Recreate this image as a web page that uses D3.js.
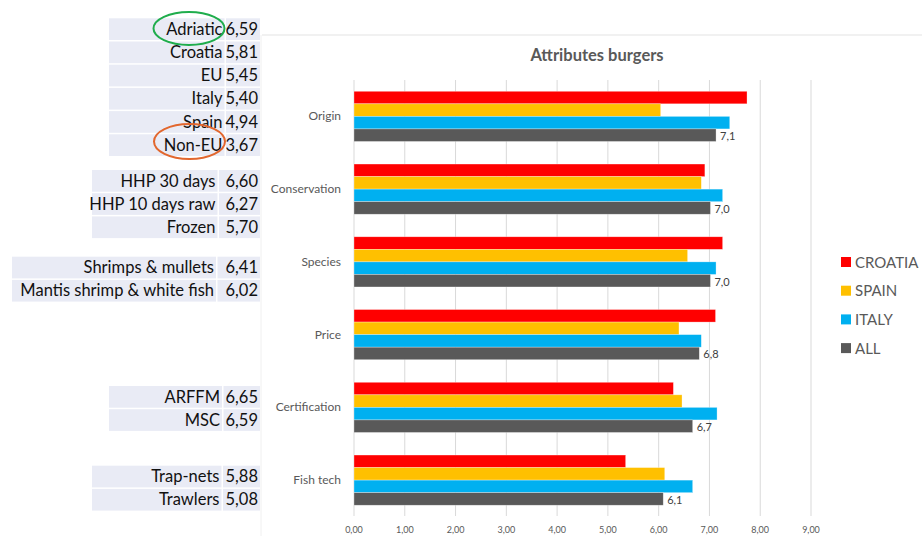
<!DOCTYPE html>
<html>
<head>
<meta charset="utf-8">
<script src="https://cdn.jsdelivr.net/npm/d3@7"></script>
<style>
  body { margin: 0; background: #fff; }
  svg { display: block; font-family: Lato, "Open Sans", sans-serif; }
</style>
</head>
<body>
<svg width="922" height="536"></svg>
<script>
// chart data
let categories = ["Origin", "Conservation", "Species", "Price", "Certification", "Fish tech"];
let seriesNames = ["CROATIA", "SPAIN", "ITALY", "ALL"];
let croatia = [7.74, 6.91, 7.26, 7.12, 6.29, 5.35];
let spain = [6.04, 6.84, 6.57, 6.40, 6.46, 6.12];
let italy = [7.40, 7.26, 7.13, 6.84, 7.15, 6.67];
let all = [7.13, 7.02, 7.02, 6.80, 6.67, 6.09];
let xTicks = [0, 1, 2, 3, 4, 5, 6, 7, 8, 9];
let colors = ["#ff0000", "#ffc000", "#00b0f0", "#595959"];

// side tables
let originLabels = ["Adriatic", "Croatia", "EU", "Italy", "Spain", "Non-EU"];
let originValues = ["6,59", "5,81", "5,45", "5,40", "4,94", "3,67"];
let conservationLabels = ["HHP 30 days", "HHP 10 days raw", "Frozen"];
let conservationValues = ["6,60", "6,27", "5,70"];
let speciesLabels = ["Shrimps & mullets", "Mantis shrimp & white fish"];
let speciesValues = ["6,41", "6,02"];
let certLabels = ["ARFFM", "MSC"];
let certValues = ["6,65", "6,59"];
let techLabels = ["Trap-nets", "Trawlers"];
let techValues = ["5,88", "5,08"];

let svg = d3.select("svg");
let series = [croatia, spain, italy, all];

// frame lines
svg.append("line").attr("x1", 262).attr("x2", 922).attr("y1", 35).attr("y2", 35)
  .attr("stroke", "#e3e3e3");
svg.append("line").attr("x1", 261).attr("x2", 261).attr("y1", 35).attr("y2", 536)
  .attr("stroke", "#f0f0f0");

// scales
let x = d3.scaleLinear().domain([0, 9]).range([354, 811]);
let y = d3.scaleBand().domain(categories).range([80, 516.5])
  .paddingInner(0.31).paddingOuter(0.155);
let ySub = d3.scaleBand().domain(seriesNames).range([0, y.bandwidth()]);

// gridlines
svg.append("g")
  .selectAll("line")
  .data(xTicks)
  .enter()
  .append("line")
  .attr("x1", (d) => x(d))
  .attr("x2", (d) => x(d))
  .attr("y1", 80)
  .attr("y2", 516)
  .attr("stroke", "#d9d9d9");

// bars
let groups = svg.append("g")
  .selectAll("g")
  .data(categories)
  .enter()
  .append("g")
  .attr("transform", (d) => "translate(0," + y(d) + ")");

groups.selectAll("rect")
  .data((d, i) => seriesNames.map((s, j) => ({ s: s, v: series[j][i], c: colors[j] })))
  .enter()
  .append("rect")
  .attr("x", x(0))
  .attr("y", (d) => ySub(d.s))
  .attr("width", (d) => x(d.v) - x(0))
  .attr("height", ySub.bandwidth())
  .attr("fill", (d) => d.c)
  .attr("stroke", "#fff")
  .attr("stroke-opacity", 0.5)
  .attr("stroke-width", 0.6);

// data labels on ALL
svg.append("g")
  .selectAll("text")
  .data(categories)
  .enter()
  .append("text")
  .attr("x", (d, i) => x(all[i]) + 4)
  .attr("y", (d) => y(d) + ySub("ALL") + ySub.bandwidth() / 2 + 5)
  .attr("font-size", 11)
  .attr("fill", "#404040")
  .text((d, i) => d3.format(".1f")(all[i]).replace(".", ","));

// category labels
svg.append("g")
  .selectAll("text")
  .data(categories)
  .enter()
  .append("text")
  .attr("x", 341)
  .attr("y", (d) => y(d) + y.bandwidth() / 2 + 4)
  .attr("text-anchor", "end")
  .attr("font-size", 12)
  .attr("fill", "#595959")
  .text((d) => d);

// x tick labels
svg.append("g")
  .selectAll("text")
  .data(xTicks)
  .enter()
  .append("text")
  .attr("x", (d) => x(d))
  .attr("y", 533)
  .attr("text-anchor", "middle")
  .attr("font-size", 9)
  .attr("fill", "#595959")
  .text((d) => d3.format(".2f")(d).replace(".", ","));

// title
svg.append("text")
  .attr("x", 597)
  .attr("y", 61)
  .attr("text-anchor", "middle")
  .attr("font-size", 16.5)
  .attr("font-weight", "bold")
  .attr("fill", "#595959")
  .text("Attributes burgers");

// legend
let legend = svg.append("g")
  .selectAll("g")
  .data(seriesNames)
  .enter()
  .append("g")
  .attr("transform", (d, i) => "translate(841," + (262 + i * 28.7) + ")");
legend.append("rect")
  .attr("x", 0).attr("y", -5).attr("width", 10).attr("height", 10)
  .attr("fill", (d, i) => colors[i]);
legend.append("text")
  .attr("x", 14).attr("y", 5.5)
  .attr("font-size", 15)
  .attr("fill", "#595959")
  .text((d) => d);

// side tables
function drawTable(labels, values, left, top, split) {
  let rowH = 23.2;
  let g = svg.append("g");
  let rows = g.selectAll("g")
    .data(labels)
    .enter()
    .append("g")
    .attr("transform", (d, i) => "translate(0," + (top + i * rowH) + ")");
  rows.append("rect")
    .attr("x", left).attr("y", 0)
    .attr("width", split - left).attr("height", rowH - 1.5)
    .attr("fill", "#e9ebf5");
  rows.append("rect")
    .attr("x", split + 1.5).attr("y", 0)
    .attr("width", 260 - split - 1.5).attr("height", rowH - 1.5)
    .attr("fill", "#e9ebf5");
  rows.append("text")
    .attr("x", split - 2).attr("y", rowH / 2 + 5)
    .attr("text-anchor", "end")
    .attr("font-size", 16.5)
    .attr("fill", "#111")
    .text((d) => d);
  rows.append("text")
    .attr("x", 258).attr("y", rowH / 2 + 5)
    .attr("text-anchor", "end")
    .attr("font-size", 16.5)
    .attr("fill", "#111")
    .text((d, i) => values[i]);
}

drawTable(originLabels, originValues, 109, 18.3, 224.5);
drawTable(conservationLabels, conservationValues, 92, 170, 217.5);
drawTable(speciesLabels, speciesValues, 12, 256.7, 216);
drawTable(certLabels, certValues, 109, 386, 222);
drawTable(techLabels, techValues, 92, 465.7, 221.5);

// highlight ellipses
svg.append("ellipse")
  .attr("cx", 189).attr("cy", 28.5).attr("rx", 35.5).attr("ry", 16.5)
  .attr("fill", "none").attr("stroke", "#1fad4c").attr("stroke-width", 2);
svg.append("ellipse")
  .attr("cx", 189.5).attr("cy", 141.5).attr("rx", 35.5).attr("ry", 17.5)
  .attr("fill", "none").attr("stroke", "#e2672e").attr("stroke-width", 2);
</script>
</body>
</html>
